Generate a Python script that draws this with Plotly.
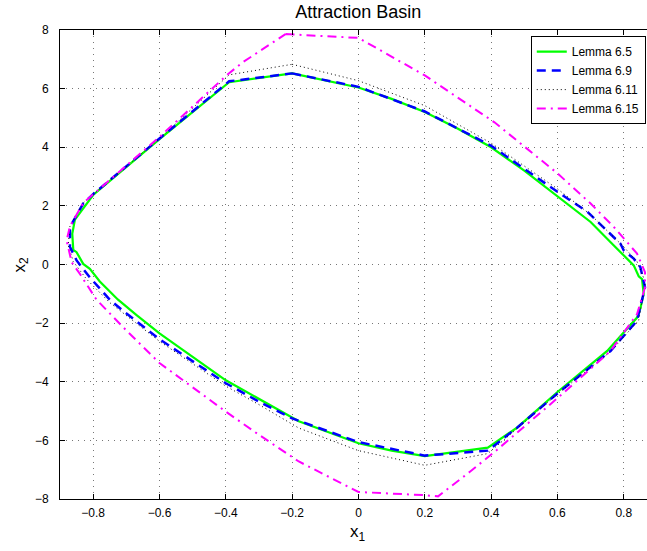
import plotly.graph_objects as go

# ---- data ----
names = ["Lemma 6.5", "Lemma 6.9", "Lemma 6.11", "Lemma 6.15"]

x_l65 = [-0.2, -0.09, 0.0, 0.1, 0.2, 0.3, 0.4, 0.5, 0.6, 0.7, 0.77, 0.81, 0.83, 0.845, 0.855,
         0.86, 0.85, 0.84, 0.80, 0.75, 0.6, 0.48, 0.39, 0.2, 0.1, 0.0, -0.18, -0.3, -0.4, -0.5,
         -0.6, -0.67, -0.725, -0.78, -0.81, -0.83, -0.85, -0.86, -0.863, -0.855, -0.8, -0.6, -0.39, -0.2]
y_l65 = [6.52, 6.27, 6.04, 5.65, 5.2, 4.63, 4.0, 3.2, 2.33, 1.45, 0.65, 0.2, -0.03, -0.4, -0.5,
         -1.0, -1.5, -1.81, -2.32, -2.95, -4.35, -5.55, -6.25, -6.54, -6.35, -6.1, -5.35, -4.6, -3.95, -3.15,
         -2.35, -1.72, -1.2, -0.58, -0.15, 0.02, 0.42, 0.5, 1.05, 1.53, 2.37, 4.28, 6.22, 6.52]

x_l69 = [-0.2, 0.0, 0.2, 0.4, 0.6, 0.69, 0.79, 0.80, 0.83, 0.85, 0.864, 0.84, 0.76, 0.6, 0.48,
         0.39, 0.2, 0.0, -0.2, -0.3, -0.4, -0.6, -0.71, -0.75, -0.81, -0.85, -0.87, -0.87, -0.83,
         -0.8, -0.6, -0.39, -0.2]
y_l69 = [6.52, 6.06, 5.22, 4.05, 2.48, 1.8, 0.71, 0.48, 0.2, -0.09, -0.78, -1.92, -2.95, -4.4, -5.55,
         -6.35, -6.52, -6.06, -5.25, -4.68, -4.05, -2.55, -1.58, -1.2, -0.44, 0.14, 0.6, 1.28, 2.08,
         2.4, 4.3, 6.25, 6.52]

x_l611 = [-0.2, 0.0, 0.2, 0.4, 0.6, 0.7, 0.8, 0.84, 0.865, 0.845, 0.76, 0.6, 0.39, 0.2, 0.0,
          -0.18, -0.3, -0.4, -0.6, -0.75, -0.82, -0.86, -0.875, -0.87, -0.83, -0.6, -0.39, -0.2]
y_l611 = [6.83, 6.27, 5.42, 4.14, 2.58, 1.7, 0.6, 0.1, -0.6, -1.9, -2.97, -4.42, -6.45, -6.85, -6.35,
          -5.58, -4.78, -4.15, -2.62, -1.3, -0.5, 0.1, 0.65, 1.3, 2.1, 4.3, 6.47, 6.83]

x_l615 = [-0.22, 0.0, 0.2, 0.41, 0.6, 0.7, 0.77, 0.84, 0.864, 0.864, 0.84, 0.76, 0.6, 0.417,
          0.336, 0.24, 0.2, 0.0, -0.18, -0.3, -0.4, -0.6, -0.7, -0.79, -0.84, -0.865, -0.88,
          -0.87, -0.83, -0.6, -0.398, -0.35, -0.22]
y_l615 = [7.86, 7.73, 6.45, 4.85, 3.11, 2.08, 1.28, 0.37, -0.26, -0.78, -1.69, -2.95, -4.56, -6.33,
          -7.07, -7.91, -7.87, -7.76, -6.72, -5.81, -5.02, -3.36, -2.25, -1.2, -0.32, 0.08, 0.82,
          1.3, 2.1, 4.35, 6.45, 6.89, 7.86]

x_ticks = [-0.8, -0.6, -0.4, -0.2, 0, 0.2, 0.4, 0.6, 0.8]
y_ticks = [-8, -6, -4, -2, 0, 2, 4, 6, 8]

FONT = "Liberation Sans, Arial, Helvetica, sans-serif"

fig = go.Figure()
fig.add_trace(go.Scatter(x=x_l65, y=y_l65, mode="lines", name=names[0],
                         line=dict(color="#00ff00", width=2.2)))
fig.add_trace(go.Scatter(x=x_l69, y=y_l69, mode="lines", name=names[1],
                         line=dict(color="#0000ff", width=2.5, dash="9px,6px")))
fig.add_trace(go.Scatter(x=x_l611, y=y_l611, mode="lines", name=names[2],
                         line=dict(color="#000000", width=1, dash="1px,3px")))
fig.add_trace(go.Scatter(x=x_l615, y=y_l615, mode="lines", name=names[3],
                         line=dict(color="#ff00ff", width=2, dash="9px,5px,2px,5px")))

axis_common = dict(
    showline=True, linecolor="black", linewidth=1,
    ticks="inside", ticklen=5, tickcolor="black", tickwidth=1,
    showgrid=True, gridcolor="#777777", griddash="1px,5px", gridwidth=1,
    zeroline=False, tickfont=dict(family=FONT, size=12, color="black"),
)

fig.update_layout(
    width=647, height=551,
    margin=dict(l=60, r=0, t=30, b=52),
    paper_bgcolor="white", plot_bgcolor="white",
    font=dict(family=FONT, color="black"),
    title=dict(text="Attraction Basin", x=0.508, xref="paper", xanchor="center",
               y=1 - 12 / 551, yref="container", yanchor="middle",
               font=dict(family=FONT, size=18, color="black")),
    xaxis=dict(range=[-0.9, 0.87], tickvals=x_ticks, mirror="ticks",
               ticklabelstandoff=3, **axis_common),
    yaxis=dict(range=[-8, 8], tickvals=y_ticks, mirror=False,
               ticklabelstandoff=8, **axis_common),
    legend=dict(x=0.802, y=0.987, xanchor="left", yanchor="top",
                bgcolor="white", bordercolor="black", borderwidth=1,
                font=dict(family=FONT, size=12, color="black"),
                tracegroupgap=0, itemwidth=30),
    showlegend=True,
    annotations=[
        dict(text="x<sub>1</sub>", xref="paper", yref="paper", x=0.508, y=-0.044,
             xanchor="center", yanchor="top", showarrow=False,
             font=dict(family=FONT, size=17, color="black")),
        dict(text="x<sub>2</sub>", xref="paper", yref="paper", x=-0.068, y=0.5,
             xanchor="center", yanchor="middle", showarrow=False, textangle=-90,
             font=dict(family=FONT, size=17, color="black")),
    ],
)

fig.write_html("out.html")
